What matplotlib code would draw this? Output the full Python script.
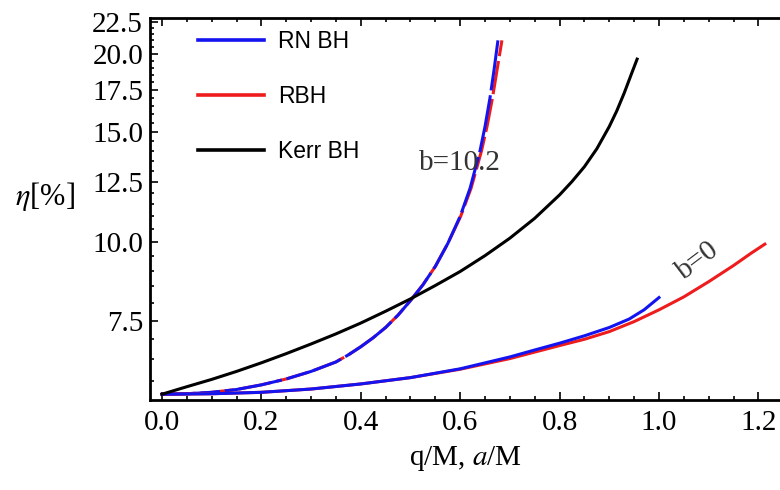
import matplotlib

matplotlib.use("Agg")
import matplotlib.pyplot as plt
from matplotlib.lines import Line2D
from matplotlib.ticker import FixedLocator, FormatStrFormatter, MultipleLocator, NullFormatter


# efficiency curves, eta in percent
Q_B0_RN = [0.0, 0.1, 0.2, 0.3, 0.4, 0.5, 0.6, 0.7, 0.75, 0.8, 0.85, 0.9, 0.94, 0.97, 1.0]
ETA_B0_RN = [5.72, 5.73, 5.76, 5.83, 5.94, 6.08, 6.28, 6.56, 6.73, 6.90, 7.09, 7.31, 7.54, 7.80, 8.16]

Q_B0_RBH = [0.0, 0.1, 0.2, 0.3, 0.4, 0.5, 0.6, 0.7, 0.8, 0.85, 0.9, 0.95, 1.0, 1.05, 1.1, 1.15, 1.185, 1.213]
ETA_B0_RBH = [5.72, 5.73, 5.76, 5.83, 5.94, 6.08, 6.27, 6.52, 6.84, 7.00, 7.20, 7.47, 7.80, 8.18, 8.65, 9.18, 9.60, 9.93]

Q_B10_RN = [0.0, 0.05, 0.1, 0.15, 0.2, 0.25, 0.3, 0.35, 0.375, 0.4, 0.425, 0.45, 0.475, 0.5,
            0.525, 0.55, 0.575, 0.6, 0.62, 0.64, 0.65, 0.66, 0.668, 0.676]
ETA_B10_RN = [5.72, 5.73, 5.76, 5.82, 5.92, 6.05, 6.22, 6.44, 6.61, 6.81, 7.04, 7.31, 7.65, 8.07,
              8.55, 9.15, 9.95, 11.0, 12.2, 14.0, 15.3, 17.0, 18.8, 21.0]

Q_B10_RBH = [0.0, 0.05, 0.1, 0.15, 0.2, 0.25, 0.3, 0.35, 0.375, 0.4, 0.425, 0.45, 0.475, 0.5,
             0.525, 0.55, 0.575, 0.601, 0.622, 0.643, 0.654, 0.665, 0.674, 0.684]
ETA_B10_RBH = [5.72, 5.73, 5.76, 5.82, 5.92, 6.05, 6.22, 6.44, 6.61, 6.81, 7.04, 7.31, 7.65, 8.07,
               8.55, 9.15, 9.95, 11.0, 12.2, 14.0, 15.3, 17.0, 18.8, 21.0]

A_KERR = [0.0, 0.05, 0.1, 0.15, 0.2, 0.25, 0.3, 0.35, 0.4, 0.45, 0.5, 0.55, 0.6, 0.65, 0.7,
          0.75, 0.8, 0.825, 0.85, 0.875, 0.9, 0.915, 0.93, 0.945, 0.956]
ETA_KERR = [5.72, 5.88, 6.04, 6.22, 6.42, 6.64, 6.88, 7.14, 7.43, 7.76, 8.12, 8.53, 8.98, 9.52, 10.15,
            10.92, 11.9, 12.5, 13.2, 14.1, 15.3, 16.2, 17.3, 18.6, 19.6]

Y_TICKS = [7.5, 10.0, 12.5, 15.0, 17.5, 20.0, 22.5]
X_TICKS = [0.0, 0.2, 0.4, 0.6, 0.8, 1.0, 1.2]

BLUE = "#1414f0"
RED = "#ee1c1c"


def main() -> None:
    _configure_matplotlib()

    fig = plt.figure(figsize=(7.8, 4.9), dpi=100)
    ax = fig.add_axes([0.1923, 0.1837, 0.8077, 0.7796])

    # b = 10.2 : red dashed underneath, blue dashed on top
    ax.plot(Q_B10_RBH, ETA_B10_RBH, color=RED, lw=2.2, dashes=(11, 1.6), dash_capstyle="butt")
    ax.plot(Q_B10_RN, ETA_B10_RN, color=BLUE, lw=2.2, dashes=(19, 1.6), dash_capstyle="butt")

    # b = 0
    ax.plot(Q_B0_RBH, ETA_B0_RBH, color=RED, lw=2.2)
    ax.plot(Q_B0_RN, ETA_B0_RN, color=BLUE, lw=2.2)

    ax.plot(A_KERR, ETA_KERR, color="black", lw=2.2)

    ax.set_yscale("log")
    ax.set_xlim(-0.0241, 1.2435)
    ax.set_ylim(5.6, 22.8)

    ax.yaxis.set_major_locator(FixedLocator(Y_TICKS))
    ax.yaxis.set_major_formatter(FormatStrFormatter("%.1f"))
    ax.yaxis.set_minor_locator(MultipleLocator(0.5))
    ax.yaxis.set_minor_formatter(NullFormatter())
    ax.xaxis.set_major_locator(FixedLocator(X_TICKS))
    ax.xaxis.set_major_formatter(FormatStrFormatter("%.1f"))
    ax.xaxis.set_minor_locator(MultipleLocator(0.05))

    ax.tick_params(which="both", direction="in", top=True, right=False, width=1.2)
    ax.tick_params(which="major", length=6, labelsize=21, pad=5)
    ax.tick_params(which="minor", length=3)
    ax.tick_params(axis="x", which="major", pad=7)

    for side in ("left", "bottom", "top"):
        ax.spines[side].set_linewidth(2.0)
    ax.spines["right"].set_visible(False)

    ax.set_xlabel(r"q/M, $a$/M", fontsize=21, labelpad=6)
    ax.set_ylabel(r"$\eta$[%]", fontsize=22, rotation=0)
    ax.yaxis.set_label_coords(-0.167, 0.49)

    ax.text(0.60, 13.4, "b=10.2", fontsize=21, color="#333333", ha="center", va="center")
    ax.text(1.078, 9.35, "b=0", fontsize=21, color="#333333", ha="center", va="center", rotation=37)

    handles = [
        Line2D([], [], color=BLUE, lw=2.6),
        Line2D([], [], color=RED, lw=2.6),
        Line2D([], [], color="black", lw=2.6),
    ]
    ax.legend(
        handles,
        ["RN BH", "RBH", "Kerr BH"],
        loc="upper left",
        bbox_to_anchor=(198 / 780, 1 - 30 / 490),
        bbox_transform=fig.transFigure,
        frameon=False,
        borderpad=0,
        borderaxespad=0,
        handlelength=2.9,
        handletextpad=0.6,
        labelspacing=1.4,
        prop={"family": "Liberation Sans", "size": 16.5},
    )

    fig.savefig("out.png", dpi=100)
    plt.close(fig)


def _configure_matplotlib() -> None:
    plt.rcParams["font.family"] = ["Liberation Serif", "DejaVu Serif"]
    plt.rcParams["mathtext.fontset"] = "stix"
    plt.rcParams["axes.unicode_minus"] = False


if __name__ == "__main__":
    main()
